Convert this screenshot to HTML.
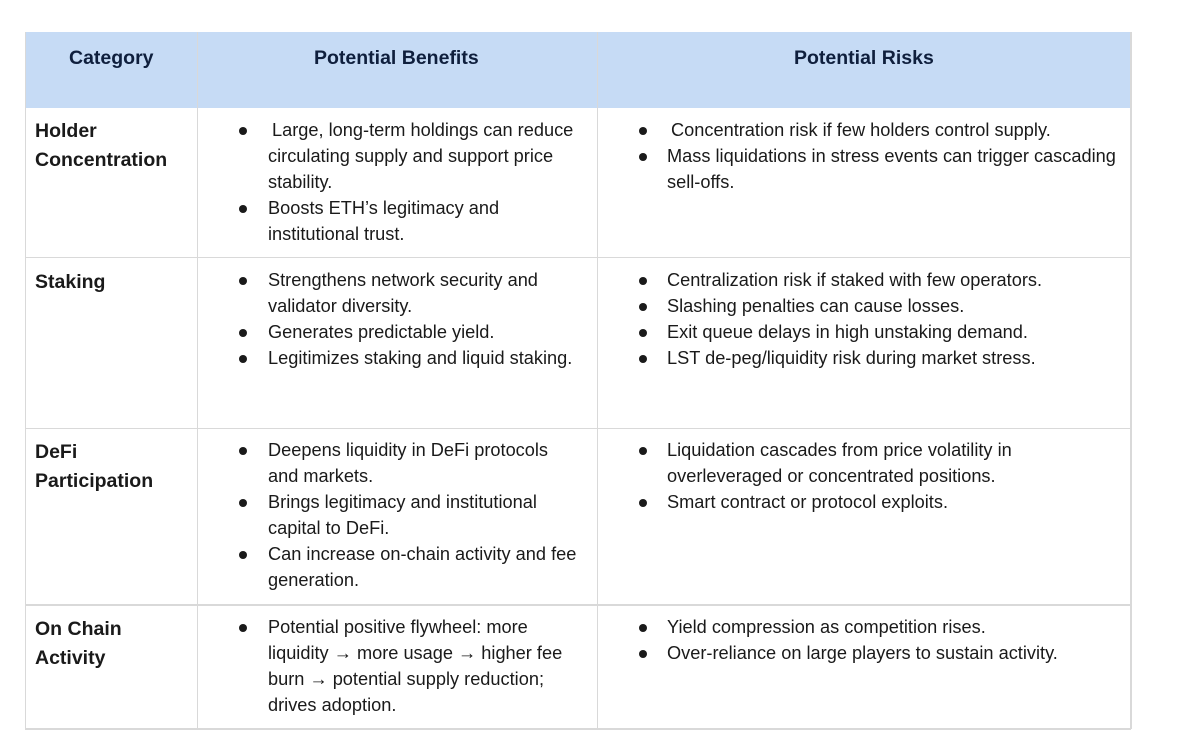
<!DOCTYPE html>
<html><head><style>
body{margin:0;width:1200px;height:752px;background:#fff;font-family:"Liberation Sans",sans-serif;color:#1a1a1a;position:relative;overflow:hidden}
.l{position:absolute;background:#d9d9d9}
.t{position:absolute;font-size:18.2px;line-height:26px;white-space:nowrap}
.b{font-weight:bold;font-size:19.5px;color:#1a1a1a}
.h{font-weight:bold;font-size:19.5px;color:#0f1f3d}
.d{position:absolute;width:8px;height:8px;border-radius:50%;background:#1a1a1a}
</style></head><body>
<div style="position:absolute;left:25px;top:32px;width:1105px;height:76px;background:#c6dbf5"></div>
<div class="l" style="left:25px;top:32px;width:1px;height:697px"></div>
<div class="l" style="left:1130px;top:32px;width:2px;height:697px"></div>
<div class="l" style="left:197px;top:32px;width:1px;height:697px"></div>
<div class="l" style="left:597px;top:32px;width:1px;height:697px"></div>
<div class="l" style="left:25px;top:257px;width:1106px;height:1px"></div>
<div class="l" style="left:25px;top:428px;width:1106px;height:1px"></div>
<div class="l" style="left:25px;top:604px;width:1106px;height:2px"></div>
<div class="l" style="left:25px;top:728px;width:1106px;height:2px"></div>

<div class="t h" style="left:69px;top:45px">Category</div>
<div class="t h" style="left:314px;top:45px">Potential Benefits</div>
<div class="t h" style="left:794px;top:45px">Potential Risks</div>

<div class="t b" style="left:35px;top:118px">Holder</div>
<div class="t b" style="left:35px;top:147px">Concentration</div>
<div class="t b" style="left:35px;top:269px">Staking</div>
<div class="t b" style="left:35px;top:439px">DeFi</div>
<div class="t b" style="left:35px;top:468px">Participation</div>
<div class="t b" style="left:35px;top:616px">On Chain</div>
<div class="t b" style="left:35px;top:645px">Activity</div>

<div class="d" style="left:239px;top:127px"></div><div class="t" style="left:272px;top:117px">Large, long-term holdings can reduce</div>
<div class="t" style="left:268px;top:143px">circulating supply and support price</div>
<div class="t" style="left:268px;top:169px">stability.</div>
<div class="d" style="left:239px;top:205px"></div><div class="t" style="left:268px;top:195px">Boosts ETH’s legitimacy and</div>
<div class="t" style="left:268px;top:221px">institutional trust.</div>

<div class="d" style="left:239px;top:277px"></div><div class="t" style="left:268px;top:267px">Strengthens network security and</div>
<div class="t" style="left:268px;top:293px">validator diversity.</div>
<div class="d" style="left:239px;top:329px"></div><div class="t" style="left:268px;top:319px">Generates predictable yield.</div>
<div class="d" style="left:239px;top:355px"></div><div class="t" style="left:268px;top:345px">Legitimizes staking and liquid staking.</div>

<div class="d" style="left:239px;top:447px"></div><div class="t" style="left:268px;top:437px">Deepens liquidity in DeFi protocols</div>
<div class="t" style="left:268px;top:463px">and markets.</div>
<div class="d" style="left:239px;top:499px"></div><div class="t" style="left:268px;top:489px">Brings legitimacy and institutional</div>
<div class="t" style="left:268px;top:515px">capital to DeFi.</div>
<div class="d" style="left:239px;top:551px"></div><div class="t" style="left:268px;top:541px">Can increase on-chain activity and fee</div>
<div class="t" style="left:268px;top:567px">generation.</div>

<div class="d" style="left:239px;top:624px"></div><div class="t" style="left:268px;top:614px">Potential positive flywheel: more</div>
<div class="t" style="left:268px;top:640px">liquidity → more usage → higher fee</div>
<div class="t" style="left:268px;top:666px">burn → potential supply reduction;</div>
<div class="t" style="left:268px;top:692px">drives adoption.</div>

<div class="d" style="left:639px;top:127px"></div><div class="t" style="left:671px;top:117px">Concentration risk if few holders control supply.</div>
<div class="d" style="left:639px;top:153px"></div><div class="t" style="left:667px;top:143px">Mass liquidations in stress events can trigger cascading</div>
<div class="t" style="left:667px;top:169px">sell-offs.</div>

<div class="d" style="left:639px;top:277px"></div><div class="t" style="left:667px;top:267px">Centralization risk if staked with few operators.</div>
<div class="d" style="left:639px;top:303px"></div><div class="t" style="left:667px;top:293px">Slashing penalties can cause losses.</div>
<div class="d" style="left:639px;top:329px"></div><div class="t" style="left:667px;top:319px">Exit queue delays in high unstaking demand.</div>
<div class="d" style="left:639px;top:355px"></div><div class="t" style="left:667px;top:345px">LST de-peg/liquidity risk during market stress.</div>

<div class="d" style="left:639px;top:447px"></div><div class="t" style="left:667px;top:437px">Liquidation cascades from price volatility in</div>
<div class="t" style="left:667px;top:463px">overleveraged or concentrated positions.</div>
<div class="d" style="left:639px;top:499px"></div><div class="t" style="left:667px;top:489px">Smart contract or protocol exploits.</div>

<div class="d" style="left:639px;top:624px"></div><div class="t" style="left:667px;top:614px">Yield compression as competition rises.</div>
<div class="d" style="left:639px;top:650px"></div><div class="t" style="left:667px;top:640px">Over-reliance on large players to sustain activity.</div>
</body></html>
